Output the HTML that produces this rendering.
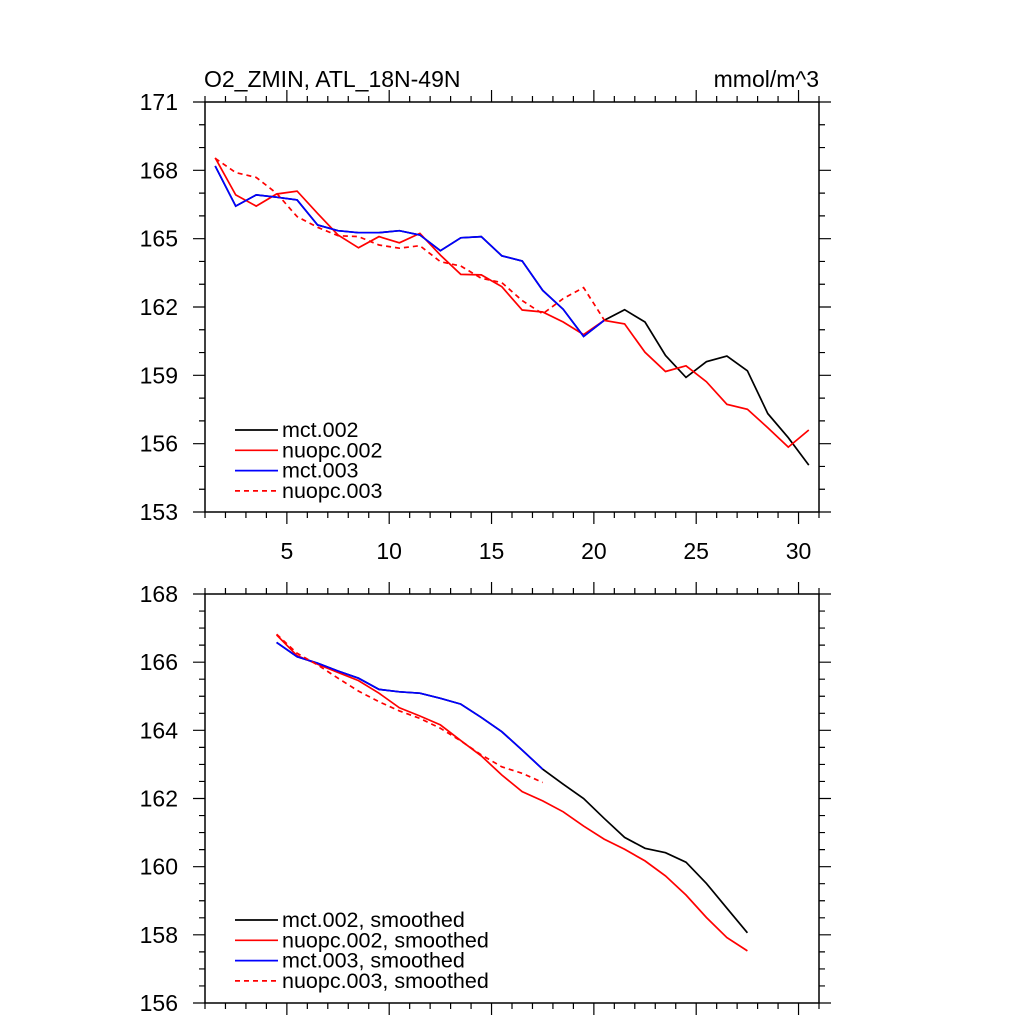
<!DOCTYPE html>
<html><head><meta charset="utf-8"><style>
body{margin:0;background:#fff;}
svg{display:block;font-family:"Liberation Sans",sans-serif;}
</style></head><body>
<svg id="chart" width="1024" height="1024" xmlns="http://www.w3.org/2000/svg"></svg>
<script>
const topX = [1.5,2.5,3.5,4.5,5.5,6.5,7.5,8.5,9.5,10.5,11.5,12.5,13.5,14.5,15.5,16.5,17.5,18.5,19.5,20.5,21.5,22.5,23.5,24.5,25.5,26.5,27.5,28.5,29.5,30.5];
const topMct002 = [168.19,166.43,166.92,166.82,166.70,165.60,165.35,165.26,165.26,165.35,165.16,164.47,165.04,165.09,164.25,164.02,162.73,161.90,160.71,161.41,161.88,161.34,159.87,158.91,159.60,159.85,159.20,157.32,156.26,155.06];
const topNuopc002 = [168.55,166.92,166.43,166.96,167.09,166.11,165.16,164.60,165.09,164.82,165.23,164.28,163.43,163.41,162.89,161.87,161.78,161.34,160.79,161.41,161.26,160.01,159.17,159.42,158.72,157.73,157.51,156.70,155.85,156.60];
const topMct003 = [168.19,166.43,166.92,166.82,166.70,165.60,165.35,165.26,165.26,165.35,165.16,164.47,165.04,165.09,164.25,164.02,162.73,161.90,160.71,161.41];
const topNuopc003 = [168.53,167.90,167.69,166.99,165.97,165.50,165.13,165.09,164.72,164.58,164.69,163.99,163.80,163.26,163.07,162.28,161.70,162.37,162.85,161.44];
const topYTicks = [153,156,159,162,165,168,171];
const xTicks = [5,10,15,20,25,30];
const botX = [4.5,5.5,6.5,7.5,8.5,9.5,10.5,11.5,12.5,13.5,14.5,15.5,16.5,17.5,18.5,19.5,20.5,21.5,22.5,23.5,24.5,25.5,26.5,27.5];
const botMct002 = [166.58,166.16,165.97,165.74,165.53,165.20,165.13,165.09,164.94,164.77,164.38,163.96,163.42,162.86,162.42,162.00,161.42,160.86,160.54,160.41,160.13,159.51,158.78,158.06];
const botNuopc002 = [166.80,166.19,165.94,165.70,165.46,165.09,164.66,164.42,164.16,163.70,163.25,162.69,162.20,161.93,161.61,161.19,160.81,160.51,160.17,159.73,159.17,158.51,157.92,157.53];
const botMct003 = [166.58,166.16,165.97,165.74,165.53,165.20,165.13,165.09,164.94,164.77,164.38,163.96,163.42,162.86];
const botNuopc003 = [166.82,166.26,165.92,165.53,165.15,164.84,164.57,164.35,164.06,163.69,163.28,162.93,162.74,162.47];
const botYTicks = [156,158,160,162,164,166,168];

const NS="http://www.w3.org/2000/svg";
const svg=document.getElementById('chart');
function mk(tag,attrs,parent){const e=document.createElementNS(NS,tag);for(const k in attrs)e.setAttribute(k,attrs[k]);(parent||svg).appendChild(e);return e;}
const L=205,R=819;
const xs=v=>L+(v-1)*(R-L)/30;

function panel(name,top,bottom,ymin,ymax,minorStep,yTicks,showX){
  const g=mk('g',{});
  
  
  const ys=v=>bottom-(v-ymin)*(bottom-top)/(ymax-ymin);
  const fr=mk('rect',{x:L,y:top,width:R-L,height:bottom-top,fill:'none',stroke:'#000','stroke-width':1.5},g);
  
  
  let p='';
  for(let v=1;v<=31.0001;v+=1){const x=xs(v);const len=(v%5===0)?12:6;p+=`M${x},${bottom}v${len}M${x},${top}v${-len}`;}
  for(let v=ymin;v<=ymax+1e-6;v+=minorStep){const y=ys(v);const maj=yTicks.some(t=>Math.abs(t-v)<1e-6);const len=maj?12:6;p+=`M${L},${y}h${-len}M${R},${y}h${len}`;}
  const tk=mk('path',{d:p,stroke:'#000','stroke-width':1.2,fill:'none'},g);
  
  
  yTicks.forEach(t=>{const e=mk('text',{x:178,y:ys(t)+8,'text-anchor':'end','font-size':23},g);e.textContent=t;
    
    });
  if(showX)xTicks.forEach(t=>{const e=mk('text',{x:xs(t),y:bottom+47,'text-anchor':'middle','font-size':23},g);e.textContent=t;
    
    });
  return {g,ys};
}
function line(g,xArr,yArr,ys,color,dash,name){
  const d=yArr.map((v,i)=>(i?'L':'M')+xs(xArr[i]).toFixed(1)+','+ys(v).toFixed(1)).join('');
  const e=mk('path',{d,stroke:color,'stroke-width':1.7,fill:'none'},g);
  if(dash)e.setAttribute('stroke-dasharray','5,4');
  
  
}
function legend(g,y0,labels){
  const cols=['#000','#f00','#00f','#f00'];
  labels.forEach((t,i)=>{const y=y0+i*20.3;
    const l=mk('line',{x1:235,x2:278,y1:y,y2:y,stroke:cols[i],'stroke-width':1.7},g);
    if(i===3)l.setAttribute('stroke-dasharray','5,4');
    
    
    const e=mk('text',{x:282,y:y+7,'font-size':21.5},g);e.textContent=t;
    
    });
}
const t1=mk('text',{x:204,y:87,'font-size':23});t1.textContent='O2_ZMIN, ATL_18N-49N';


const t2=mk('text',{x:819,y:87,'font-size':23,'text-anchor':'end'});t2.textContent='mmol/m^3';



const P1=panel('top-panel',102,512,153,171,1,topYTicks,true);
line(P1.g,topX,topMct002,P1.ys,'#000',false,'series-mct-002');
line(P1.g,topX,topNuopc002,P1.ys,'#f00',false,'series-nuopc-002');
line(P1.g,topX,topMct003,P1.ys,'#00f',false,'series-mct-003');
line(P1.g,topX,topNuopc003,P1.ys,'#f00',true,'series-nuopc-003');
legend(P1.g,430,['mct.002','nuopc.002','mct.003','nuopc.003']);

const P2=panel('bottom-panel',594,1003,156,168,0.5,botYTicks,false);
line(P2.g,botX,botMct002,P2.ys,'#000',false,'series-mct-002-smoothed');
line(P2.g,botX,botNuopc002,P2.ys,'#f00',false,'series-nuopc-002-smoothed');
line(P2.g,botX,botMct003,P2.ys,'#00f',false,'series-mct-003-smoothed');
line(P2.g,botX,botNuopc003,P2.ys,'#f00',true,'series-nuopc-003-smoothed');
legend(P2.g,920,['mct.002, smoothed','nuopc.002, smoothed','mct.003, smoothed','nuopc.003, smoothed']);
</script>
</body></html>
